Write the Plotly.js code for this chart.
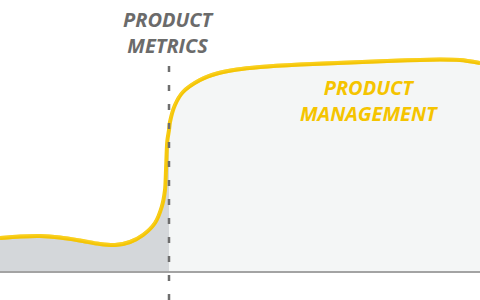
<!DOCTYPE html>
<html>
<head>
<meta charset="utf-8">
<script src="https://cdn.plot.ly/plotly-3.0.1.min.js"></script>
<style>
html,body{margin:0;padding:0;background:#fff;}
#chart{width:480px;height:300px;}
</style>
</head>
<body>
<div id="chart"></div>
<script>
// Curve (x position, level above the baseline)
var curveX = [0, 20, 40, 60, 80, 100, 115, 130, 143, 155, 161.7, 165, 166, 167.3, 169, 170, 175, 183, 200, 217, 237, 260, 300, 350, 400, 440, 460, 480];
var curveY = [34, 35.5, 36, 34.5, 31.5, 28, 27, 30, 37, 49, 65, 82, 102, 131, 142, 150, 167, 180, 192, 198.5, 202.5, 205, 207.5, 209.5, 211.5, 212.5, 212, 209];
var splitX = 169;
var labels = ["PRODUCT<br>METRICS", "PRODUCT<br>MANAGEMENT"];

var leftX = [], leftY = [], rightX = [], rightY = [];
for (var i = 0; i < curveX.length; i++) {
  if (curveX[i] <= splitX) { leftX.push(curveX[i]); leftY.push(curveY[i]); }
  if (curveX[i] >= splitX) { rightX.push(curveX[i]); rightY.push(curveY[i]); }
}
function shifted(arr, d) { return arr.map(function (v) { return v + d; }); }
var sm = 0.8;

var traces = [
  {x: leftX, y: leftY, type: 'scatter', mode: 'lines', fill: 'tozeroy',
   fillcolor: '#d4d7da', line: {width: 0, shape: 'spline', smoothing: sm}, hoverinfo: 'skip'},
  {x: rightX, y: rightY, type: 'scatter', mode: 'lines', fill: 'tozeroy',
   fillcolor: '#f4f6f6', line: {width: 0, shape: 'spline', smoothing: sm}, hoverinfo: 'skip'},
  {x: curveX, y: curveY, type: 'scatter', mode: 'lines',
   line: {color: '#f6c90e', width: 4, shape: 'spline', smoothing: sm}, hoverinfo: 'skip'},
  {x: curveX, y: shifted(curveY, 1.3), type: 'scatter', mode: 'lines', opacity: 0.6,
   line: {color: '#fbd42a', width: 1.5, shape: 'spline', smoothing: sm}, hoverinfo: 'skip'},
  {x: curveX, y: shifted(curveY, -1.3), type: 'scatter', mode: 'lines', opacity: 0.6,
   line: {color: '#f2c200', width: 1.5, shape: 'spline', smoothing: sm}, hoverinfo: 'skip'}
];

var layout = {
  width: 480, height: 300,
  margin: {l: 0, r: 0, t: 0, b: 0},
  paper_bgcolor: '#ffffff', plot_bgcolor: '#ffffff',
  showlegend: false,
  xaxis: {range: [0, 480], visible: false, fixedrange: true},
  yaxis: {range: [-28, 272], visible: false, fixedrange: true},
  shapes: [
    {type: 'line', xref: 'x', yref: 'y', x0: 0, x1: 480, y0: 0, y1: 0,
     line: {color: '#a3a3a3', width: 2}},
    {type: 'line', xref: 'x', yref: 'y', x0: splitX, x1: splitX, y0: -28, y1: 214,
     line: {color: '#6e6e6e', width: 2.5, dash: '6px,13px'}}
  ],
  annotations: [
    {x: splitX, y: 239.5, xref: 'x', yref: 'y', text: labels[0], showarrow: false,
     font: {family: 'Open Sans', size: 20, color: '#6b6b6b', weight: 'bold', style: 'italic'},
     align: 'center', yanchor: 'middle'},
    {x: 369, y: 171.5, xref: 'x', yref: 'y', text: labels[1], showarrow: false,
     font: {family: 'Open Sans', size: 20, color: '#f5c400', weight: 'bold', style: 'italic'},
     align: 'center', yanchor: 'middle'}
  ]
};

Plotly.newPlot('chart', traces, layout, {displayModeBar: false, staticPlot: true});
</script>
</body>
</html>
